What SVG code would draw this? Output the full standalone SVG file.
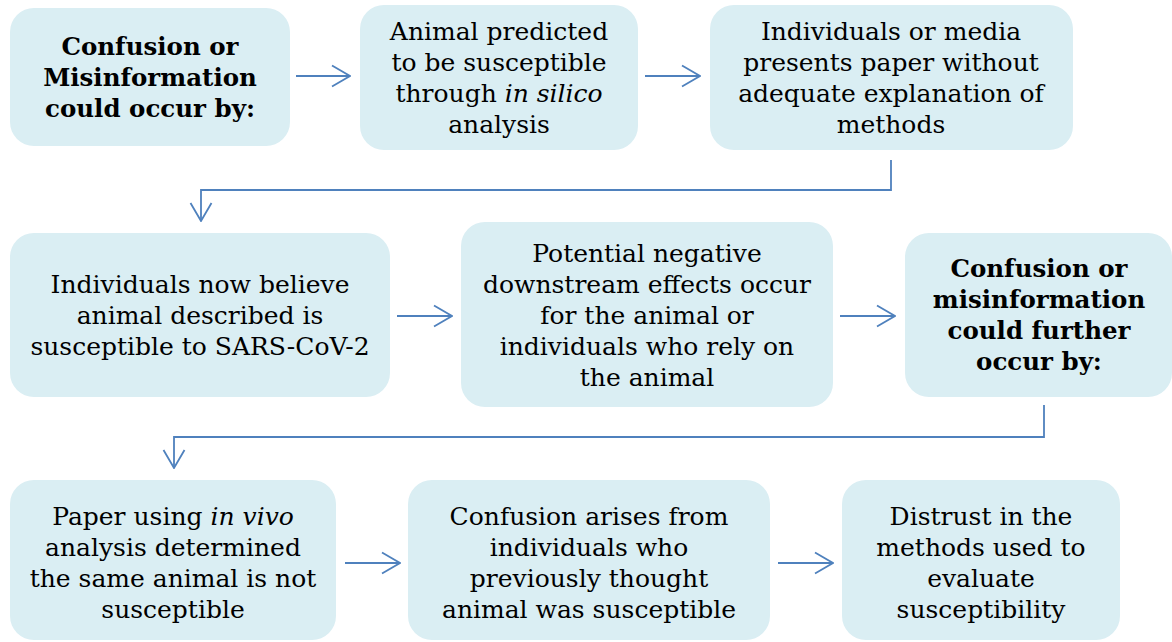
<svg xmlns="http://www.w3.org/2000/svg" width="1172" height="642" viewBox="0 0 1172 642">
<defs>
<style>
.box{fill:#DAEEF3;}
.t{font-family:"DejaVu Serif","Liberation Serif",serif;font-size:25px;fill:#000;text-anchor:middle;}
.b{font-weight:bold;font-size:24.5px;}
.c{fill:none;stroke:#4F81BD;stroke-width:1.8;}
</style>
<marker id="ah" viewBox="0 0 20 24" refX="19" refY="12" markerWidth="20" markerHeight="24" markerUnits="userSpaceOnUse" orient="auto">
<path d="M1,1.5 L19,12 L1,22.5" fill="none" stroke="#4F81BD" stroke-width="1.8"/>
</marker>
</defs>
<rect width="1172" height="642" fill="#fff"/>
<g id="n1"><rect class="box" x="10" y="8" width="280" height="138" rx="24"/>
<text class="t b" x="150" y="55">Confusion or</text><text class="t b" x="150" y="86">Misinformation</text><text class="t b" x="150" y="117">could occur by:</text></g>
<g id="n2"><rect class="box" x="360" y="5" width="278" height="145" rx="24"/>
<text class="t" x="499" y="40">Animal predicted</text><text class="t" x="499" y="71">to be susceptible</text><text class="t" x="499" y="102">through <tspan font-style="italic">in silico</tspan></text><text class="t" x="499" y="133">analysis</text></g>
<g id="n3"><rect class="box" x="710" y="5" width="363" height="145" rx="24"/>
<text class="t" x="891" y="40">Individuals or media</text><text class="t" x="891" y="71">presents paper without</text><text class="t" x="891" y="102">adequate explanation of</text><text class="t" x="891" y="133">methods</text></g>
<g id="n4"><rect class="box" x="10" y="233" width="380" height="164" rx="24"/>
<text class="t" x="200" y="293">Individuals now believe</text><text class="t" x="200" y="324">animal described is</text><text class="t" x="200" y="355">susceptible to SARS-CoV-2</text></g>
<g id="n5"><rect class="box" x="461" y="222" width="372" height="185" rx="24"/>
<text class="t" x="647" y="262">Potential negative</text><text class="t" x="647" y="293">downstream effects occur</text><text class="t" x="647" y="324">for the animal or</text><text class="t" x="647" y="355">individuals who rely on</text><text class="t" x="647" y="386">the animal</text></g>
<g id="n6"><rect class="box" x="905" y="233" width="267" height="164" rx="24"/>
<text class="t b" x="1039" y="277">Confusion or</text><text class="t b" x="1039" y="308">misinformation</text><text class="t b" x="1039" y="339">could further</text><text class="t b" x="1039" y="370">occur by:</text></g>
<g id="n7"><rect class="box" x="10" y="480" width="326" height="160" rx="24"/>
<text class="t" x="173" y="525">Paper using <tspan font-style="italic">in vivo</tspan></text><text class="t" x="173" y="556">analysis determined</text><text class="t" x="173" y="587">the same animal is not</text><text class="t" x="173" y="618">susceptible</text></g>
<g id="n8"><rect class="box" x="408" y="480" width="362" height="160" rx="24"/>
<text class="t" x="589" y="525">Confusion arises from</text><text class="t" x="589" y="556">individuals who</text><text class="t" x="589" y="587">previously thought</text><text class="t" x="589" y="618">animal was susceptible</text></g>
<g id="n9"><rect class="box" x="842" y="480" width="278" height="160" rx="24"/>
<text class="t" x="981" y="525">Distrust in the</text><text class="t" x="981" y="556">methods used to</text><text class="t" x="981" y="587">evaluate</text><text class="t" x="981" y="618">susceptibility</text></g>
<g id="connectors">
<path class="c" d="M296,76 H350" marker-end="url(#ah)"/>
<path class="c" d="M645,76 H700" marker-end="url(#ah)"/>
<path class="c" d="M891,160 V190 H201 V221" marker-end="url(#ah)"/>
<path class="c" d="M397,316 H452" marker-end="url(#ah)"/>
<path class="c" d="M840,316 H895" marker-end="url(#ah)"/>
<path class="c" d="M1044,405 V437 H174 V468" marker-end="url(#ah)"/>
<path class="c" d="M345,563 H400" marker-end="url(#ah)"/>
<path class="c" d="M778,563 H833" marker-end="url(#ah)"/>
</g>
</svg>
